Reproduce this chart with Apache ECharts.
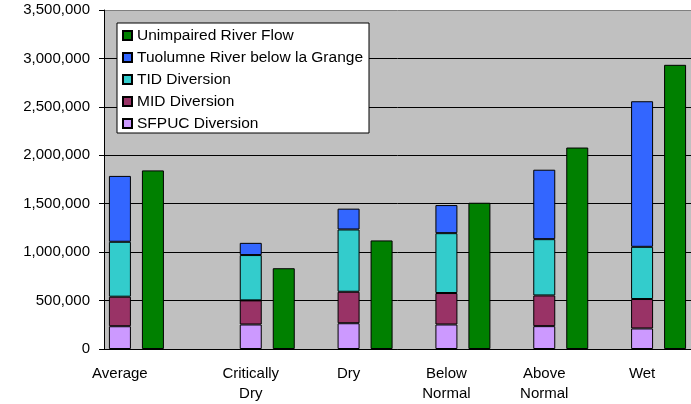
<!DOCTYPE html>
<html>
<head>
<meta charset="utf-8">
<script src="https://cdn.jsdelivr.net/npm/echarts@6/dist/echarts.min.js"></script>
<style>
html,body{margin:0;padding:0;background:#fff;}
#chart{width:691px;height:404px;}
</style>
</head>
<body>
<div id="chart"></div>
<script>
const categories = ['Average', 'Critically\nDry', 'Dry', 'Below\nNormal', 'Above\nNormal', 'Wet'];
const sfpuc = [235000, 253000, 266000, 253000, 236000, 212000];
const mid = [305000, 249000, 325000, 325000, 317000, 304000];
const tid = [567000, 468000, 643000, 618000, 581000, 539000];
const tuolumne = [680000, 126000, 215000, 290000, 717000, 1503000];
const unimpaired = [1844000, 834000, 1121000, 1510000, 2080000, 2934000];
const yTicks = [0, 500000, 1000000, 1500000, 2000000, 2500000, 3000000, 3500000];

const FONT = "'Liberation Sans', Arial, sans-serif";
const names = {
  uni: 'Unimpaired River Flow',
  tuo: 'Tuolumne River below la Grange',
  tid: 'TID Diversion',
  mid: 'MID Diversion',
  sf: 'SFPUC Diversion'
};
const colors = {
  uni: '#008000', tuo: '#3366FF', tid: '#33CCCC', mid: '#993366', sf: '#CC99FF'
};
// Average (index 0) is drawn one slot to the left of the other categories
const EMPTY = { value: '-', itemStyle: { borderWidth: 0, color: 'rgba(0,0,0,0)' } };
const onlyFirst = arr => arr.map((v, i) => i === 0 ? v : EMPTY);
const exceptFirst = arr => arr.map((v, i) => i === 0 ? EMPTY : v);

function bar(key, data, stack) {
  return {
    type: 'bar', name: names[key], stack: stack, data: data,
    barWidth: 22, barGap: '50%',
    itemStyle: { color: colors[key], borderColor: '#000', borderWidth: 1 }
  };
}

const series = [
  bar('sf', onlyFirst(sfpuc), 'a'),
  bar('mid', onlyFirst(mid), 'a'),
  bar('tid', onlyFirst(tid), 'a'),
  bar('tuo', onlyFirst(tuolumne), 'a'),
  bar('uni', onlyFirst(unimpaired), 'b'),
  bar('sf', exceptFirst(sfpuc), 'b'),
  bar('mid', exceptFirst(mid), 'b'),
  bar('tid', exceptFirst(tid), 'b'),
  bar('tuo', exceptFirst(tuolumne), 'b'),
  bar('uni', exceptFirst(unimpaired), 'c')
];

const splitColors = yTicks.map((v, i) => i === yTicks.length - 1 ? '#808080' : '#000');

const chart = echarts.init(document.getElementById('chart'), null, { renderer: 'canvas' });
chart.setOption({
  animation: false,
  textStyle: { fontFamily: FONT },
  grid: {
    left: 104, top: 10, width: 592, height: 342,
    show: true, backgroundColor: '#C0C0C0', borderWidth: 0
  },
  legend: {
    orient: 'vertical', left: 117, top: 23,
    data: [names.uni, names.tuo, names.tid, names.mid, names.sf],
    icon: 'rect', itemWidth: 9, itemHeight: 9, itemGap: 5,
    backgroundColor: '#fff', borderColor: '#000', borderWidth: 1,
    padding: [4, 6, 1, 5],
    textStyle: { fontFamily: FONT, fontSize: 15.5, color: '#000', lineHeight: 17 }
  },
  xAxis: {
    type: 'category', data: categories,
    axisLine: { lineStyle: { color: '#000', width: 1 } },
    axisTick: { show: false },
    axisLabel: {
      interval: 0, margin: 15, color: '#000', fontFamily: FONT, fontSize: 15, lineHeight: 20,
      formatter: (v, i) => i === 0 ? '{s|' + v + '}' : v,
      rich: { s: { fontFamily: FONT, fontSize: 15, color: '#000', padding: [0, 66, 0, 0] } }
    }
  },
  yAxis: {
    type: 'value', min: yTicks[0], max: yTicks[yTicks.length - 1], interval: 500000,
    axisLine: { show: true, lineStyle: { color: '#000', width: 1 } },
    axisTick: { show: true, length: 5, lineStyle: { color: '#000' } },
    splitLine: { show: true, lineStyle: { color: splitColors, width: 1 } },
    axisLabel: {
      margin: 14, color: '#000', fontFamily: FONT, fontSize: 15,
      formatter: v => v.toLocaleString('en-US')
    }
  },
  series: series
});
</script>
</body>
</html>
